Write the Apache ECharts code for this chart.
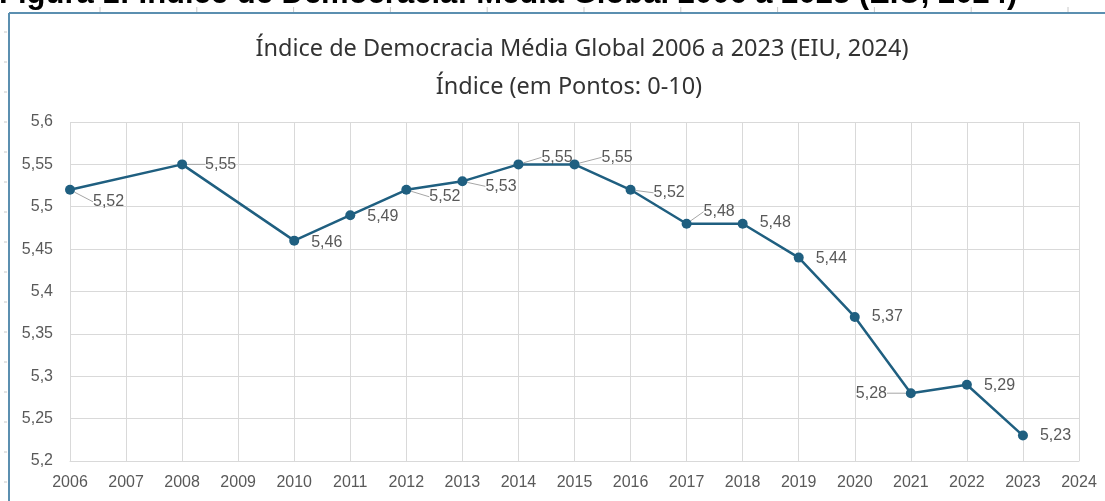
<!DOCTYPE html>
<html>
<head>
<meta charset="utf-8">
<script src="https://cdn.jsdelivr.net/npm/echarts@6/dist/echarts.min.js"></script>
<style>
  html, body { margin: 0; padding: 0; background: #fff; }
  #chart { width: 1105px; height: 501px; }
</style>
</head>
<body>
<div id="chart"></div>
<script>
// dados
var years = ['2006','2007','2008','2009','2010','2011','2012','2013','2014','2015','2016','2017','2018','2019','2020','2021','2022','2023','2024'];
var indexValues = [5.52, null, 5.55, null, 5.46, 5.49, 5.52, 5.53, 5.55, 5.55, 5.52, 5.48, 5.48, 5.44, 5.37, 5.28, 5.29, 5.23, null];
var yTicks = { min: 5.2, max: 5.6, step: 0.05 };

var chart = echarts.init(document.getElementById('chart'));

// deslocamento dos rótulos (dx, dy) por ponto
var labelShift = {
  0: [10, 12], 2: [10, 0], 4: [4, 2], 5: [4, 1], 6: [10, 7], 7: [10, 5],
  8: [10, -7], 9: [14, -7], 10: [10, 3], 11: [4, -12], 12: [4, -1],
  13: [4, 1], 14: [4, 0], 15: [-68, 0], 16: [4, 1], 17: [4, 0]
};
// pontos com linha de chamada
var withLeader = [0, 2, 6, 7, 8, 9, 10, 11, 15];

function fmt(v) {
  return String(+Number(v).toFixed(2)).replace('.', ',');
}

var seriesData = indexValues.map(function (v, i) {
  return { value: v, labelLine: { show: withLeader.indexOf(i) >= 0 } };
});

// réguas / moldura decorativas
var deco = [];
for (var i = 0; i < 11; i++) {
  var x = 100 + i * 96.8;
  deco.push({ type: 'line', shape: { x1: x, y1: 7, x2: x, y2: 12 }, style: { stroke: '#c8c8c8', lineWidth: 1 } });
}
for (var k = -3; k < 13; k++) {
  var y = 122 + k * 30;
  deco.push({ type: 'line', shape: { x1: 4, y1: y, x2: 7, y2: y }, style: { stroke: '#c8c8c8', lineWidth: 1 } });
}
deco.push({ type: 'line', shape: { x1: 9, y1: 13, x2: 1105, y2: 13 }, style: { stroke: '#5b8fb0', lineWidth: 2 } });
deco.push({ type: 'line', shape: { x1: 9, y1: 13, x2: 9, y2: 501 }, style: { stroke: '#5b8fb0', lineWidth: 2 } });
deco.push({
  type: 'text', left: -1, top: -21, z: -1,
  style: {
    text: 'Figura 1: Índice de Democracia: Média Global 2006 a 2023 (EIU, 2024)',
    font: 'bold 31px "Liberation Sans"', fill: '#000'
  }
});

var titleFont = { color: '#333333', fontSize: 23.5, fontWeight: 'normal', fontFamily: 'Noto Sans' };

var option = {
  animation: false,
  title: [{
    text: 'Índice de Democracia Média Global 2006 a 2023 (EIU, 2024)',
    left: 577, textAlign: 'center', top: 32,
    textStyle: titleFont
  }, {
    text: 'Índice (em Pontos: 0-10)',
    left: 564, textAlign: 'center', top: 70,
    textStyle: titleFont
  }],
  grid: { left: 70, right: 26, top: 122, bottom: 40 },
  xAxis: {
    type: 'category',
    data: years,
    boundaryGap: false,
    axisLine: { lineStyle: { color: '#d9d9d9' } },
    axisTick: { show: false },
    axisLabel: { color: '#595959', fontSize: 16, fontFamily: 'Liberation Sans', margin: 14, interval: 0 },
    splitLine: { show: true, lineStyle: { color: '#d9d9d9' } }
  },
  yAxis: {
    type: 'value',
    min: yTicks.min, max: yTicks.max, interval: yTicks.step,
    axisLine: { show: false },
    axisTick: { show: false },
    axisLabel: { color: '#595959', fontSize: 16, fontFamily: 'Liberation Sans', margin: 17, formatter: fmt },
    splitLine: { lineStyle: { color: '#d9d9d9' } }
  },
  series: [{
    type: 'line',
    data: seriesData,
    connectNulls: true,
    symbol: 'circle',
    symbolSize: 10,
    lineStyle: { color: '#1f5f80', width: 2.5 },
    itemStyle: { color: '#1f5f80' },
    label: {
      show: true, position: 'right', distance: 8,
      color: '#595959', fontSize: 16, fontFamily: 'Liberation Sans',
      formatter: function (p) { return fmt(p.value); }
    },
    labelLine: { lineStyle: { color: '#a6a6a6', width: 1 } },
    labelLayout: function (p) {
      var s = labelShift[p.dataIndex];
      return s ? { dx: s[0], dy: s[1] } : {};
    }
  }],
  graphic: deco
};

chart.setOption(option);
</script>
</body>
</html>
